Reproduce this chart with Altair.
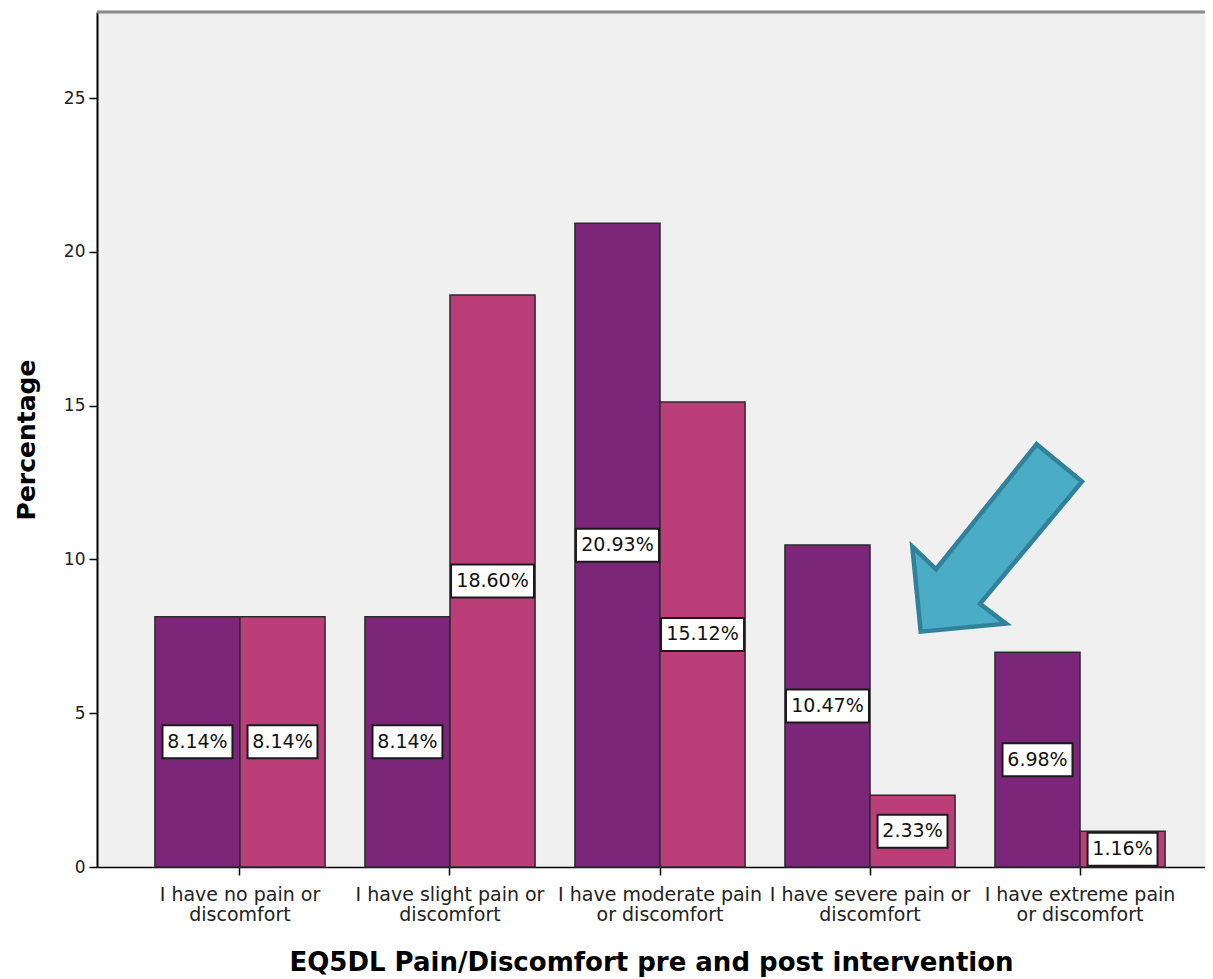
import altair as alt
import pandas as pd

# ---- data ----
categories = [
    "I have no pain or\ndiscomfort",
    "I have slight pain or\ndiscomfort",
    "I have moderate pain\nor discomfort",
    "I have severe pain or\ndiscomfort",
    "I have extreme pain\nor discomfort",
]
groups = ["Pre-intervention", "Post-intervention"]
pre_values = [8.14, 8.14, 20.93, 10.47, 6.98]
post_values = [8.14, 18.60, 15.12, 2.33, 1.16]
colors = ["#7B2679", "#BC3E79"]

# annotation arrow anchor (category, percentage level)
arrow_category = [categories[3]]
arrow_level = [10.7]

y_ticks = [0, 5, 10, 15, 20, 25]
y_max = 27.8

rows = []
for c, a, b in zip(categories, pre_values, post_values):
    rows.append({"category": c, "group": groups[0], "value": a})
    rows.append({"category": c, "group": groups[1], "value": b})
df = pd.DataFrame(rows)
arrow_df = pd.DataFrame({"category": arrow_category, "level": arrow_level})
frame_df = pd.DataFrame({"k": [0]})

FONT = "DejaVu Sans"
W, H = 1108, 855
Y_TITLE = "Percentage"

x_enc = alt.X(
    "category:N",
    sort=categories,
    scale=alt.Scale(paddingInner=0.19, paddingOuter=0.233, align=0.592),
    axis=alt.Axis(
        title="EQ5DL Pain/Discomfort pre and post intervention",
        labelAngle=0,
        labelExpr="split(datum.label, '\\n')",
        labelLimit=0,
        labelFont=FONT,
        labelFontSize=19,
        labelLineHeight=20,
        labelColor="#222222",
        labelPadding=10,
        labelBaseline="top",
        tickSize=8,
        tickColor="#000000",
        tickWidth=1.5,
        domainColor="#000000",
        domainWidth=1.5,
        titleFont=FONT,
        titleFontSize=26,
        titleFontWeight="bold",
        titleColor="#000000",
        titlePadding=25,
    ),
)
xoff = alt.XOffset("group:N", sort=groups, scale=alt.Scale(paddingInner=0, paddingOuter=0))
y_scale = alt.Scale(domain=[0, y_max], nice=False, zero=True)
y_axis = alt.Axis(
    values=y_ticks,
    grid=False,
    labelFont=FONT,
    labelFontSize=17,
    labelColor="#222222",
    labelPadding=4,
    tickSize=8,
    tickColor="#000000",
    tickWidth=1.5,
    domainColor="#000000",
    domainWidth=2,
    titleFont=FONT,
    titleFontSize=25,
    titleFontWeight="bold",
    titleColor="#000000",
    titlePadding=24,
)

base = alt.Chart(df)

bars = base.mark_bar(stroke="#2a2a2a", strokeWidth=1.5).encode(
    x=x_enc,
    xOffset=xoff,
    y=alt.Y("value:Q", scale=y_scale, axis=y_axis, title=Y_TITLE),
    color=alt.Color("group:N", scale=alt.Scale(domain=groups, range=colors), legend=None),
)

SHORT_BOX = "M-0.833,-0.393L0.833,-0.393L0.833,0.393L-0.833,0.393Z"
LONG_BOX = "M-0.988,-0.393L0.988,-0.393L0.988,0.393L-0.988,0.393Z"

labelled = base.transform_calculate(
    mid="datum.value / 2",
    label="format(datum.value, '.2f') + '%'",
    kind="length(format(datum.value, '.2f')) > 4 ? 'long' : 'short'",
)

boxes = labelled.mark_point(
    filled=True, fill="#FFFFFF", stroke="#1a1a1a", strokeWidth=2, opacity=1, size=7056
).encode(
    x=x_enc,
    xOffset=xoff,
    y=alt.Y("mid:Q", scale=y_scale, title=Y_TITLE),
    shape=alt.Shape("kind:N", scale=alt.Scale(domain=["short", "long"], range=[SHORT_BOX, LONG_BOX]), legend=None),
)

texts = labelled.mark_text(
    font=FONT, fontSize=19, color="#111111", align="center", baseline="middle"
).encode(
    x=x_enc,
    xOffset=xoff,
    y=alt.Y("mid:Q", scale=y_scale, title=Y_TITLE),
    text="label:N",
)

# arrow outline, drawn to the right of the anchor category
ARROW = ("M1.773,-0.997L2.255,-0.599L1.170,0.702L1.447,0.912L0.539,0.997"
         "L0.450,0.093L0.702,0.333Z")
arrow = alt.Chart(arrow_df).mark_point(
    shape=ARROW, size=35344, filled=True, fill="#4BACC6", stroke="#31819A",
    strokeWidth=4.5, strokeJoin="miter", opacity=1,
).encode(
    x=alt.X("category:N", sort=categories),
    y=alt.Y("level:Q", scale=y_scale, title=Y_TITLE),
)

top_frame = alt.Chart(frame_df).mark_rule(color="#8a8a8a", strokeWidth=3).encode(
    x=alt.value(0), x2=alt.value("width"), y=alt.value(0)
)

chart = (
    alt.layer(bars, boxes, texts, arrow, top_frame)
    .properties(
        width=W,
        height=H,
        autosize=alt.AutoSizeParams(type="none"),
        padding={"left": 89, "top": 4, "right": 0, "bottom": 112},
        background="#FFFFFF",
    )
    .configure_view(fill="#F0F0F0", stroke="transparent")
)

chart.save("out.html", embed_options={"renderer": "svg", "actions": False})
